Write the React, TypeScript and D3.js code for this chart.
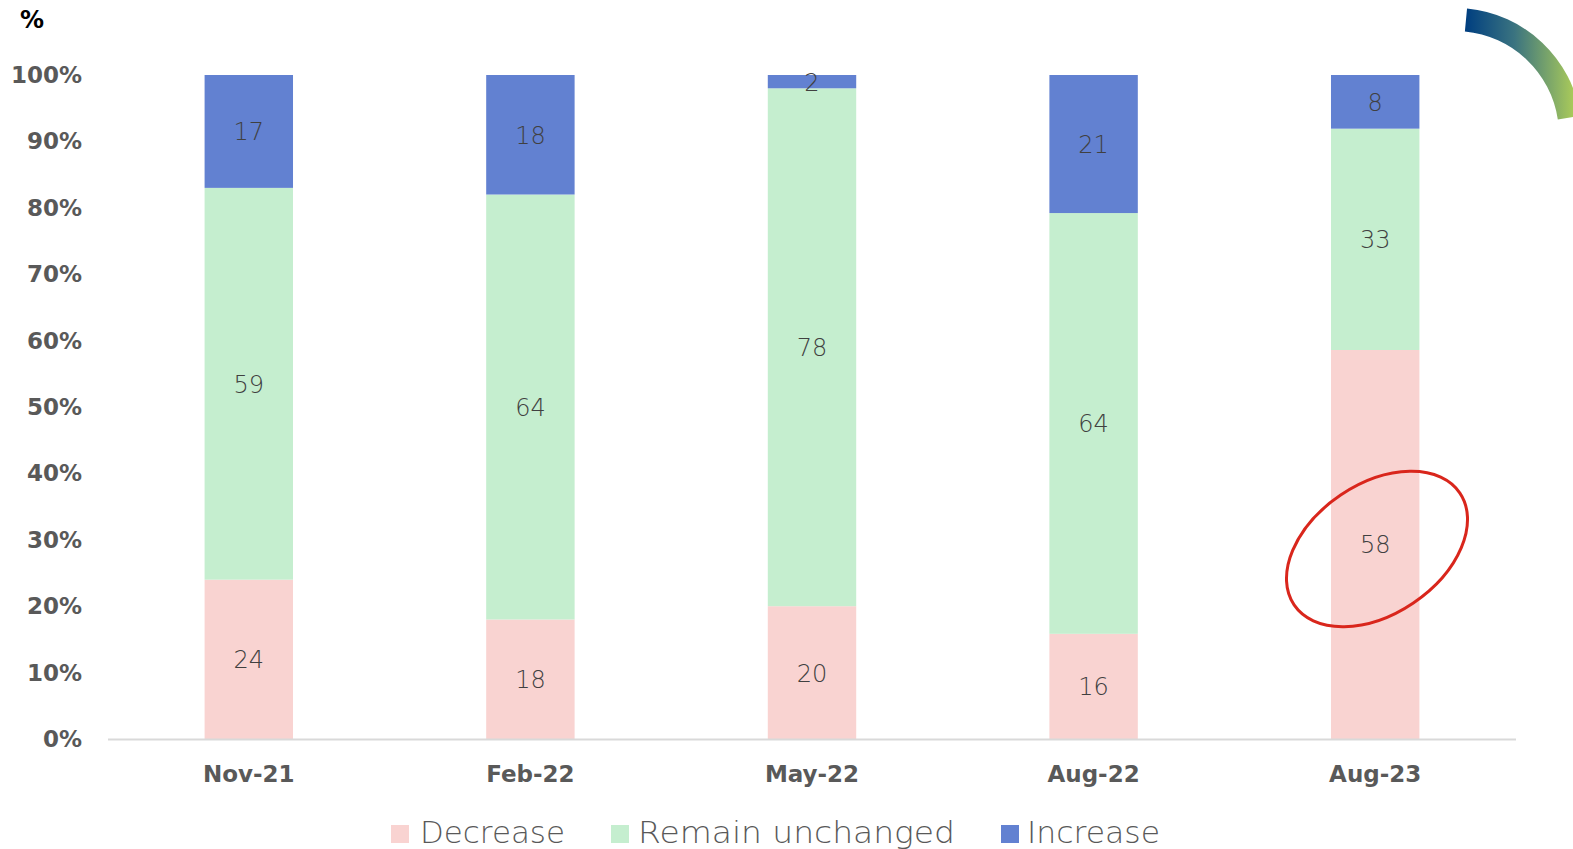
import React from "react";
import * as d3 from "d3";

const categories = ["Nov-21", "Feb-22", "May-22", "Aug-22", "Aug-23"];
const decrease = [24, 18, 20, 16, 58];
const unchanged = [59, 64, 78, 64, 33];
const increase = [17, 18, 2, 21, 8];
const seriesNames = ["Decrease", "Remain unchanged", "Increase"];
const seriesColors = ["#f9d3d1", "#c5eecf", "#6281d1"];
const yTicks = [0, 0.1, 0.2, 0.3, 0.4, 0.5, 0.6, 0.7, 0.8, 0.9, 1];

const W = 1573;
const H = 849;
const FONT = "'DejaVu Sans', sans-serif";

export default function App() {
  const rows = categories.map((c, i) => ({
    cat: c,
    Decrease: decrease[i],
    "Remain unchanged": unchanged[i],
    Increase: increase[i],
  }));
  const stack = d3
    .stack<any>()
    .keys(seriesNames)
    .offset(d3.stackOffsetExpand);
  const layers = stack(rows);

  const x = d3
    .scaleBand()
    .domain(categories)
    .range([108, 1516])
    .paddingInner(0.686)
    .paddingOuter(0.343);
  const y = d3.scaleLinear().domain([0, 1]).range([739, 75]);

  const arc = d3
    .arc()
    .innerRadius(104)
    .outerRadius(127)
    .startAngle(0.095)
    .endAngle(1.42);

  const legendItems = [
    { name: "Decrease", sx: 391, tx: 420, w: 145 },
    { name: "Remain unchanged", sx: 611, tx: 638, w: 317 },
    { name: "Increase", sx: 1001, tx: 1027, w: 133 },
  ];

  return (
    <svg
      width={W}
      height={H}
      style={{ position: "absolute", left: 0, top: 0, background: "#fff" }}
    >
      <defs>
        <linearGradient id="arcg" gradientUnits="userSpaceOnUse" x1={11} y1={0} x2={118} y2={0}>
          <stop offset="0%" stopColor="#003f80" />
          <stop offset="45%" stopColor="#3a7380" />
          <stop offset="100%" stopColor="#a8c95a" />
        </linearGradient>
      </defs>

      <text x={20} y={28} fontFamily={FONT} fontWeight="bold" fontSize={24} fill="#000">
        %
      </text>

      {yTicks.map((t) => (
        <text
          key={t}
          x={82}
          y={y(t) + 8}
          textAnchor="end"
          fontFamily={FONT}
          fontWeight="bold"
          fontSize={23}
          fill="#595959"
        >
          {Math.round(t * 100)}%
        </text>
      ))}

      {layers.map((layer, li) => (
        <g key={layer.key}>
          {layer.map((d: any, i: number) => (
            <rect
              key={i}
              x={x(categories[i])}
              y={y(d[1])}
              width={x.bandwidth()}
              height={y(d[0]) - y(d[1])}
              fill={seriesColors[li]}
            />
          ))}
        </g>
      ))}

      {layers.map((layer) => (
        <g key={"l" + layer.key}>
          {layer.map((d: any, i: number) => (
            <text
              key={i}
              x={(x(categories[i]) as number) + x.bandwidth() / 2}
              y={(y(d[0]) + y(d[1])) / 2 + 9}
              textAnchor="middle"
              fontFamily={FONT}
              fontWeight={300}
              fontSize={24}
              fill="#404040"
            >
              {d.data[layer.key]}
            </text>
          ))}
        </g>
      ))}

      <line x1={108} x2={1516} y1={739.5} y2={739.5} stroke="#d9d9d9" strokeWidth={2} />

      {categories.map((c) => (
        <text
          key={c}
          x={(x(c) as number) + x.bandwidth() / 2}
          y={782}
          textAnchor="middle"
          fontFamily={FONT}
          fontWeight="bold"
          fontSize={23}
          fill="#595959"
        >
          {c}
        </text>
      ))}

      {legendItems.map((it, i) => (
        <g key={it.name}>
          <rect x={it.sx} y={825} width={18} height={18} fill={seriesColors[i]} />
          <text
            x={it.tx}
            y={843}
            fontFamily={FONT}
            fontWeight={300}
            fontSize={30}
            fill="#595959"
            textLength={it.w}
            lengthAdjust="spacingAndGlyphs"
          >
            {it.name}
          </text>
        </g>
      ))}

      <ellipse
        cx={1377}
        cy={549}
        rx={100}
        ry={65}
        transform="rotate(-34 1377 549)"
        fill="none"
        stroke="#d9261c"
        strokeWidth={3}
      />

      <path d={arc({} as any) as string} transform="translate(1455,135)" fill="url(#arcg)" />
    </svg>
  );
}
